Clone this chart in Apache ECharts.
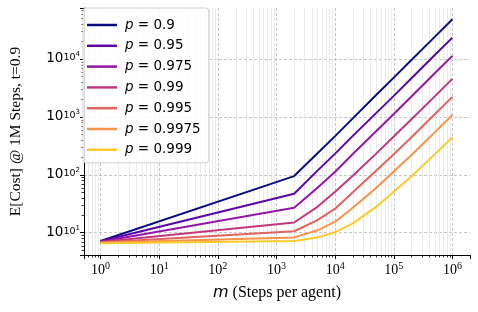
<!DOCTYPE html>
<html>
<head>
<meta charset="utf-8">
<script src="https://cdn.jsdelivr.net/npm/echarts@6/dist/echarts.min.js"></script>
<style>html,body{margin:0;padding:0;background:#fff}#c{width:478px;height:312px}</style>
</head>
<body>
<div id="c"></div>
<script>
// ---- data ----
const mValues = [1, 2000, 5000, 10000, 20000, 50000, 100000, 200000, 500000, 1000000];
const pLabels = ['0.9', '0.95', '0.975', '0.99', '0.995', '0.9975', '0.999'];
const cost_p0900  = [7.2, 95,   235,  465,  940,  2380, 4750, 9600, 24000, 48300];
const cost_p0950  = [7.1, 47,   118,  232,  470,  1160, 2300, 4650, 11700, 23300];
const cost_p0975  = [7.0, 27,   60,   113,  228,  565,  1120, 2250, 5650,  11300];
const cost_p0990  = [6.9, 15,   28,   51,   96,   232,  457,  910,  2260,  4520];
const cost_p0995  = [6.8, 10.6, 16.5, 26,   50,   117,  227,  445,  1110,  2210];
const cost_p09975 = [6.7, 8.3,  11,   15.5, 27,   59,   114,  220,  540,   1080];
const cost_p0999  = [6.6, 7.2,  8.3,  10.2, 14.5, 28,   51,   94,   225,   445];
const seriesValues = [cost_p0900, cost_p0950, cost_p0975, cost_p0990, cost_p0995, cost_p09975, cost_p0999];
const colors = ['#0d0b80', '#5a06a6', '#9416a8', '#c0397f', '#e2635f', '#f8934a', '#fdca2a'];

const X_MIN = Math.pow(10, -0.283), X_MAX = Math.pow(10, 6.3);
const Y_MIN = Math.pow(10, 0.6155), Y_MAX = Math.pow(10, 4.879);

// minor tick positions (2..9 x 10^k) inside the axis ranges
const xMinorTicks = [];
for (let k = -1; k <= 6; k++) for (let d = 2; d <= 9; d++) {
  const v = d * Math.pow(10, k); if (v > X_MIN && v < X_MAX) xMinorTicks.push(v);
}
const yMinorTicks = [];
for (let k = 0; k <= 4; k++) for (let d = 2; d <= 9; d++) {
  const v = d * Math.pow(10, k); if (v > Y_MIN && v < Y_MAX) yMinorTicks.push(v);
}

const chart = echarts.init(document.getElementById('c'), null, {renderer: 'canvas'});

function expOf(v) {
  const e = Math.log10(v);
  return Math.abs(e - Math.round(e)) < 1e-6 ? Math.round(e) : null;
}
const px = x => Math.round(x) + 0.5;

const series = seriesValues.map((vals, k) => ({
  name: 'p = ' + pLabels[k],
  type: 'line',
  symbol: 'none',
  showSymbol: false,
  data: mValues.map((m, i) => [m, vals[i]]),
  lineStyle: {color: colors[k], width: 2},
  itemStyle: {color: colors[k]},
  z: 10 + k
}));

series.push({
  name: 'xminor', type: 'custom', clip: false, silent: true, z: 1,
  data: xMinorTicks.map(v => [v, Y_MIN]),
  renderItem: (params, api) => {
    const p = api.coord([api.value(0), Y_MIN]);
    const cs = params.coordSys;
    const x = px(p[0]);
    const yb = Math.round(cs.y + cs.height);
    return {type: 'group', children: [
      {type: 'line', shape: {x1: x, y1: cs.y, x2: x, y2: yb}, style: {stroke: '#e6e6e6', lineWidth: 0.8}},
      {type: 'line', shape: {x1: x, y1: yb, x2: x, y2: yb + 2.5}, style: {stroke: '#000', lineWidth: 0.8}}
    ]};
  }
});
series.push({
  name: 'yminor', type: 'custom', clip: false, silent: true, z: 1,
  data: yMinorTicks.map(v => [X_MIN, v]),
  renderItem: (params, api) => {
    const p = api.coord([X_MIN, api.value(1)]);
    const cs = params.coordSys;
    const y = px(p[1]);
    const xl = Math.round(cs.x);
    return {type: 'line', shape: {x1: xl - 2.5, y1: y, x2: xl, y2: y}, style: {stroke: '#000', lineWidth: 0.8}};
  }
});

chart.setOption({
  animation: false,
  backgroundColor: '#fff',
  grid: {left: 76, right: 8, top: 8, bottom: 57, containLabel: false},
  legend: {
    orient: 'vertical',
    left: 83, top: 8,
    padding: [10, 8, 6, 4],
    icon: 'rect',
    itemWidth: 30, itemHeight: 2.5, itemGap: 6.8,
    backgroundColor: 'rgba(255,255,255,0.85)',
    borderColor: '#d0d0d0', borderWidth: 1, borderRadius: 3,
    data: seriesValues.map((v, k) => 'p = ' + pLabels[k]),
    formatter: name => '{i|p}{t|' + name.slice(1) + '}',
    textStyle: {
      padding: [0, 0, 0, 3],
      rich: {
        i: {fontFamily: 'DejaVu Sans', fontStyle: 'italic', fontSize: 13.5, lineHeight: 14, color: '#000'},
        t: {fontFamily: 'DejaVu Sans', fontSize: 13.5, lineHeight: 14, color: '#000'}
      }
    }
  },
  xAxis: {
    type: 'log', logBase: 10,
    min: X_MIN, max: X_MAX,
    name: '{i|m}{t| (Steps per agent)}',
    nameLocation: 'middle', nameGap: 30,
    nameTextStyle: {
      rich: {
        i: {fontFamily: 'DejaVu Sans', fontStyle: 'italic', fontSize: 16, color: '#000'},
        t: {fontFamily: 'Liberation Serif', fontSize: 16, color: '#000'}
      }
    },
    axisLine: {show: true, lineStyle: {color: '#000', width: 1}},
    axisTick: {show: true, length: 4, lineStyle: {color: '#000'}},
    minorTick: {show: false},
    splitLine: {show: true, showMinLine: false, showMaxLine: false, lineStyle: {color: '#b8b8b8', type: [3, 2], width: 0.8}},
    minorSplitLine: {show: false},
    axisLabel: {
      margin: 6,
      formatter: v => { const e = expOf(v); return e === null ? '' : '{b|10}{s|' + e + '}'; },
      rich: {
        b: {fontFamily: 'Liberation Serif', fontSize: 14, color: '#000'},
        s: {fontFamily: 'Liberation Serif', fontSize: 10, color: '#000', padding: [0, 0, 8, 0]}
      }
    }
  },
  yAxis: {
    type: 'log', logBase: 10,
    min: Y_MIN, max: Y_MAX,
    name: 'E[Cost] @ 1M Steps, t=0.9',
    nameLocation: 'middle', nameGap: 60,
    nameTextStyle: {fontFamily: 'Liberation Serif', fontSize: 15.5, color: '#000'},
    axisLine: {show: true, lineStyle: {color: '#000', width: 1}},
    axisTick: {show: true, length: 4, lineStyle: {color: '#000'}},
    minorTick: {show: false},
    splitLine: {show: true, showMinLine: false, showMaxLine: false, lineStyle: {color: '#b8b8b8', type: [3, 2], width: 0.8}},
    minorSplitLine: {show: false},
    axisLabel: {
      margin: 4,
      formatter: v => { const e = expOf(v); return e === null ? '' : '{b|10}{m|10}{s|' + e + '}'; },
      rich: {
        b: {fontFamily: 'DejaVu Sans', fontSize: 13.5, color: '#000'},
        m: {fontFamily: 'DejaVu Sans', fontSize: 9.5, color: '#000', padding: [0, 0, 3, 0]},
        s: {fontFamily: 'DejaVu Sans', fontSize: 7, color: '#000', padding: [0, 0, 9, 0]}
      }
    }
  },
  series: series
});
</script>
</body>
</html>
